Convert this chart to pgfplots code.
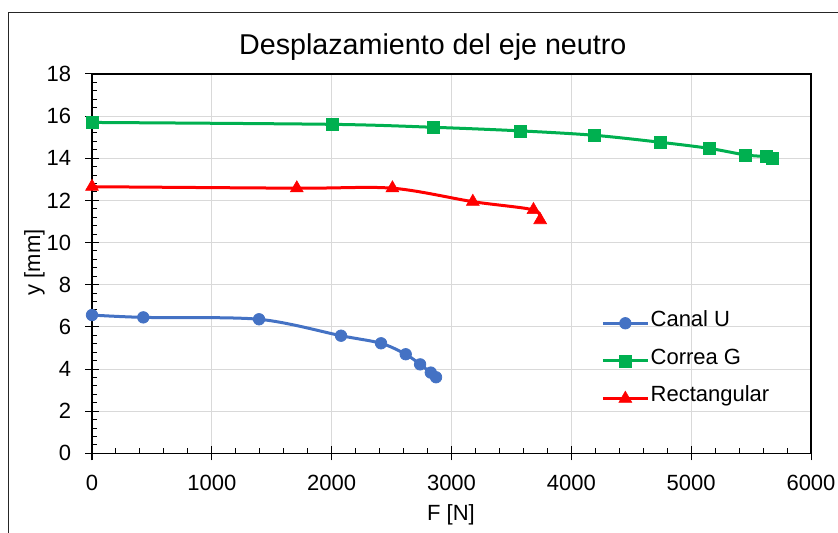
\documentclass[border=0pt]{standalone}
\usepackage{fontspec}
\setmainfont{Liberation Sans}
\usepackage{pgfplots}
\pgfplotsset{compat=1.18}
\definecolor{cblue}{HTML}{4472C4}
\definecolor{cgreen}{HTML}{00B050}
\definecolor{cred}{HTML}{FF0000}
\definecolor{cgrid}{HTML}{D9D9D9}
\newcommand{\lblfont}{\fontsize{16.5}{19.8}\selectfont}
\begin{document}
\begin{tikzpicture}[x=0.75pt,y=0.75pt]
\begin{axis}[
  at={(0,0)}, anchor=south west,
  scale only axis, width=539.25pt, height=284.5pt,
  xmin=0, xmax=6000, ymin=0, ymax=18,
  xtick={0,1000,...,6000}, ytick={0,2,...,18},
  minor x tick num=4, minor y tick num=4,
  tick pos=left,
  grid=major,
  major grid style={cgrid, line width=0.75pt},
  axis line style={black, line width=0.9pt},
  tick style={black, line width=0.75pt},
  tick align=inside,
  major tick length=5.25pt, minor tick length=3.75pt,
  extra x ticks={0,1000,...,6000}, extra x tick labels={},
  extra x tick style={grid=none, tick align=outside, major tick length=5.25pt},
  extra y ticks={0,2,...,18}, extra y tick labels={},
  extra y tick style={grid=none, tick align=outside, major tick length=5.25pt},
  /pgf/number format/assume math mode=true,
  /pgf/number format/1000 sep={},
  ticklabel style={font=\lblfont},
  xticklabel style={anchor=north, inner sep=0pt, yshift=-16pt},
  yticklabel style={anchor=east, inner sep=0pt, xshift=-15.5pt},
  xlabel={F [N]}, ylabel={y [mm]},
  xlabel style={font=\lblfont, at={(axis description cs:0.4993,-0.1760)}, anchor=base},
  ylabel style={font=\lblfont, at={(axis description cs:-0.0723,0.503)}, anchor=base},
  title={Desplazamiento del eje neutro},
  title style={font=\fontsize{21.5}{26}\selectfont, at={(axis description cs:0.474,1.029)}, anchor=base},
  legend style={draw=none, fill=none, at={(rel axis cs:0.708,0.2435)}, anchor=west,
    inner sep=0pt, row sep=16.25pt, font=\lblfont,
    nodes={inner sep=1pt, text height=0.75em, text depth=0.25em}},
  legend cell align=left,
  legend image code/.code={\draw[mark repeat=2,mark phase=2] plot coordinates {(0pt,0pt) (16.9pt,0pt) (33.75pt,0pt)};},
]
\addplot[cblue, line width=2.25pt, smooth, mark=*, mark size=4.3pt, mark options={solid, fill=cblue, draw=cblue, line width=0.6pt}]
 coordinates {(0,6.56) (428,6.45) (1394,6.36) (2078,5.58) (2412,5.22) (2618,4.70) (2738,4.22) (2827,3.83) (2871,3.61)};
\addlegendentry{Canal U}
\addplot[cgreen, line width=2.25pt, smooth, mark=square*, mark size=4.5pt, mark options={solid, fill=cgreen, draw=cgreen, line width=0.3pt}]
 coordinates {(0,15.70) (2001,15.61) (2849,15.47) (3573,15.30) (4193,15.09) (4741,14.76) (5150,14.47) (5451,14.16) (5624,14.08) (5674,14.02)};
\addlegendentry{Correa G}
\addplot[cred, line width=2.25pt, smooth, mark=triangle*, mark size=5.6pt, mark options={solid, fill=cred, draw=cred, line width=0.4pt}]
 coordinates {(0,12.65) (1709,12.58) (2507,12.58) (3178,11.94) (3684,11.55) (3740,11.07)};
\addlegendentry{Rectangular}
\end{axis}
\draw[line width=0.8pt, black!85] (-83.5,-120) -- (-83.5,441) -- (800,441);
\pgfresetboundingbox
\path (-92,-78.7) rectangle (746,453.3);
\end{tikzpicture}
\end{document}
